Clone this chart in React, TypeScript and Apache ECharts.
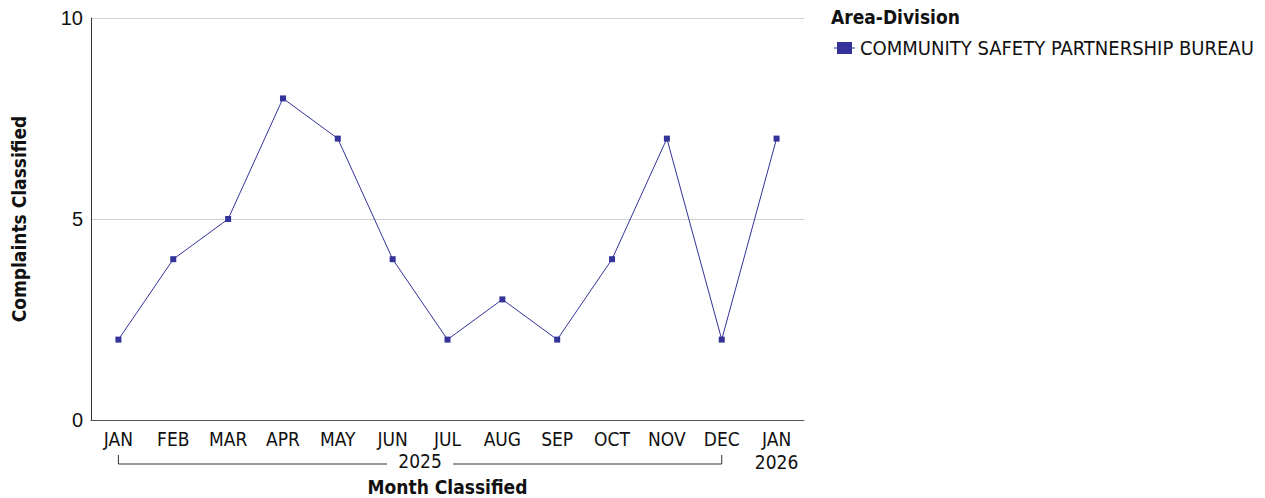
import React, { useEffect, useRef } from "react";
import * as echarts from "echarts";

const months = ["JAN", "FEB", "MAR", "APR", "MAY", "JUN", "JUL", "AUG", "SEP", "OCT", "NOV", "DEC", "JAN"];
const yearLabels = ["2025", "2026"];
const seriesName = "COMMUNITY SAFETY PARTNERSHIP BUREAU";
const complaints = [2, 4, 5, 8, 7, 4, 2, 3, 2, 4, 7, 2, 7];
const yTicks = [0, 5, 10];

const FONT = "DejaVu Sans Condensed";
const COLOR = "#333399";

export default function App() {
  const ref = useRef<HTMLDivElement>(null);
  useEffect(() => {
    if (!ref.current) return;
    const chart = echarts.init(ref.current, undefined, { renderer: "svg" });
    chart.setOption({
      animation: false,
      grid: { left: 91, right: 461, top: 18, bottom: 78, containLabel: false, outerBoundsMode: "none" },
      legend: {
        data: [seriesName],
        left: 829,
        top: 33,
        itemWidth: 21,
        itemHeight: 12,
        itemGap: 10,
        icon: "path://M0,5.5L21,5.5L21,6.5L0,6.5Z M3,0L18,0L18,12L3,12Z",
        textStyle: { fontFamily: FONT, fontSize: 20, color: "#111" },
      },
      xAxis: {
        type: "category",
        data: months,
        boundaryGap: true,
        axisLine: { lineStyle: { color: "#555", width: 1 } },
        axisTick: { show: false },
        axisLabel: {
          interval: 0,
          margin: 7,
          fontFamily: FONT,
          fontSize: 19,
          color: "#111",
          lineHeight: 23,
          formatter: (v: string, i: number) => (i === months.length - 1 ? v + "\n" + yearLabels[1] : v),
        },
        name: "Month Classified",
        nameLocation: "middle",
        nameGap: 57,
        nameTextStyle: { fontFamily: FONT, fontSize: 19, fontWeight: "bold", color: "#111" },
      },
      yAxis: {
        type: "value",
        min: 0,
        max: 10,
        interval: 5,
        axisLine: { show: true, lineStyle: { color: "#333", width: 1 } },
        axisTick: { show: false },
        splitLine: { lineStyle: { color: "#d0d0d0" } },
        axisLabel: {
          margin: 8,
          fontFamily: "Liberation Sans",
          fontSize: 20,
          color: "#111",
          formatter: (v: number) => (yTicks.includes(v) ? String(v) : ""),
        },
        name: "Complaints Classified",
        nameLocation: "middle",
        nameGap: 63,
        nameRotate: 90,
        nameTextStyle: { fontFamily: FONT, fontSize: 19, fontWeight: "bold", color: "#111" },
      },
      series: [
        {
          name: seriesName,
          type: "line",
          data: complaints,
          symbol: "rect",
          symbolSize: 6,
          itemStyle: { color: COLOR },
          lineStyle: { color: COLOR, width: 1 },
        },
      ],
    });

    const x0 = chart.convertToPixel({ xAxisIndex: 0 }, 0) as number;
    const x11 = chart.convertToPixel({ xAxisIndex: 0 }, 11) as number;
    const yBase = chart.convertToPixel({ yAxisIndex: 0 }, 0) as number;
    const yMid = yBase + 44;
    const yTop = yBase + 35;
    const cx = (x0 + x11) / 2;
    const half = 33;
    chart.setOption({
      graphic: [
        {
          type: "text",
          left: 831,
          top: 7,
          style: { text: "Area-Division", fontFamily: FONT, fontSize: 19, fontWeight: "bold", fill: "#111" },
        },
        {
          type: "polyline",
          shape: { points: [[x0, yTop], [x0, yMid], [cx - half, yMid]] },
          style: { stroke: "#333", lineWidth: 1, fill: "none" },
        },
        {
          type: "polyline",
          shape: { points: [[cx + half, yMid], [x11, yMid], [x11, yTop]] },
          style: { stroke: "#333", lineWidth: 1, fill: "none" },
        },
        {
          type: "text",
          x: cx,
          y: yMid - 3,
          style: {
            text: yearLabels[0],
            fontFamily: FONT,
            fontSize: 19,
            fill: "#111",
            align: "center",
            verticalAlign: "middle",
          },
        },
      ],
    });
    return () => chart.dispose();
  }, []);
  return <div ref={ref} style={{ position: "absolute", left: 0, top: 0, width: 1265, height: 498 }} />;
}
